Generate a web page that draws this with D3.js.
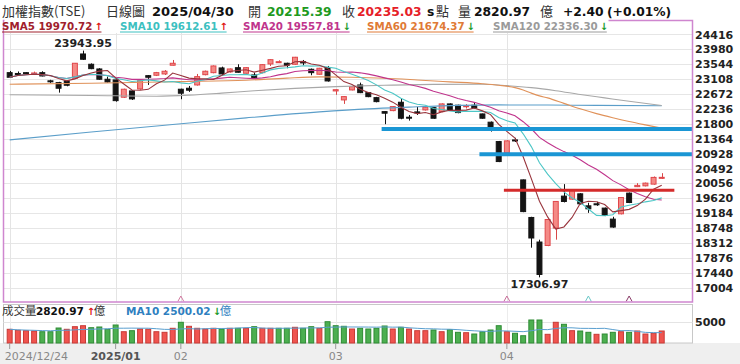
<!DOCTYPE html>
<html><head><meta charset="utf-8">
<script src="https://cdn.jsdelivr.net/npm/d3@7"></script>
<style>
html,body{margin:0;padding:0;background:#fff;}
svg{display:block;}
text{font-family:"DejaVu Sans",Verdana,sans-serif;}
.cjk{font-family:"Noto Sans CJK TC","Noto Sans CJK SC",sans-serif;}
</style></head><body>
<svg id="c" width="740" height="364"></svg>
<script>
// ---------------- DATA ----------------
const dates = [
"2024-12-24","2024-12-25","2024-12-26","2024-12-27","2024-12-30","2024-12-31",
"2025-01-02","2025-01-03","2025-01-06","2025-01-07","2025-01-08","2025-01-09","2025-01-10","2025-01-13","2025-01-14","2025-01-15","2025-01-16","2025-01-17","2025-01-20","2025-01-21","2025-01-22",
"2025-02-03","2025-02-04","2025-02-05","2025-02-06","2025-02-07","2025-02-10","2025-02-11","2025-02-12","2025-02-13","2025-02-14","2025-02-17","2025-02-18","2025-02-19","2025-02-20","2025-02-21","2025-02-24","2025-02-25","2025-02-26","2025-02-27",
"2025-03-03","2025-03-04","2025-03-05","2025-03-06","2025-03-07","2025-03-10","2025-03-11","2025-03-12","2025-03-13","2025-03-14","2025-03-17","2025-03-18","2025-03-19","2025-03-20","2025-03-21","2025-03-24","2025-03-25","2025-03-26","2025-03-27","2025-03-28","2025-03-31",
"2025-04-01","2025-04-02","2025-04-07","2025-04-08","2025-04-09","2025-04-10","2025-04-11","2025-04-14","2025-04-15","2025-04-16","2025-04-17","2025-04-18","2025-04-21","2025-04-22","2025-04-23","2025-04-24","2025-04-25","2025-04-28","2025-04-29","2025-04-30"];

const open = [23299,23275,23299,23260,23299,23060,23007,23056,23135,23846,23545,23407,23106,23086,22580,22764,22822,23211,23223,23261,23516,
22814,22843,22939,23240,23299,23437,23320,23445,23281,23232,23299,23553,23610,23574,23545,23621,23398,23252,23445,
22764,22501,22793,22939,22714,22568,22159,22188,22433,21995,22150,22208,22275,22159,22384,22346,22320,22346,22091,21849,21282,
20950,21330,20160,19060,18341,18240,18750,19685,19597,19752,19401,19460,19334,19012,19167,19773,19962,19986,20036,20215.39];
const high = [23349,23334,23310,23330,23340,23090,23030,23080,23580,23943.95,23570,23430,23183,23100,22830,22780,23080,23230,23320,23375,23670,
22830,22910,23261,23360,23510,23475,23420,23545,23460,23299,23545,23690,23660,23590,23760,23670,23420,23440,23495,
22810,22610,22900,23007,22730,22590,22170,22320,22550,22060,22295,22300,22290,22400,22400,22360,22380,22420,22100,21870,21300,
21320,21390,20170,19080,18410,19020,19540,20036,19870,19770,19490,19520,19350,19080,19660,19790,20065,20080,20260,20357];
const low = [23144,23202,23250,23250,23190,23000,22714,22900,23130,23670,23400,23090,23010,22450,22560,22500,22800,22940,23200,23230,23510,
22521,22735,22920,23220,23280,23232,23300,23300,23270,23115,23280,23495,23580,23428,23530,23515,23223,23240,23036,
22650,22384,22780,22700,22580,22430,21790,22170,21935,21895,22060,22190,21950,22140,22190,22110,22250,22250,21950,21574,20680,
20930,21270,19215,18175,17306.97,18220,18410,19500,19580,19440,19195,19400,19100,18760,19150,19480,19950,19970,20020,20190];
const close = [23164,23270,23280,23290,23202,23035,22843,22930,23574,23691,23416,23106,23027,22480,22814,22530,23065,23164,23299,23340,23574,
22697,22785,23182,23340,23495,23261,23407,23311,23445,23153,23533,23679,23620,23516,23750,23583,23299,23428,23056,
22800,22598,22890,22714,22597,22451,22112,22305,21965,21975,22140,22287,21965,22384,22208,22130,22330,22267,21965,21662,20697,
21302,21300,19232,18459,17392,19000,19529,19528,19849,19460,19313,19450,19118,18779,19644,19498,20000,20065,20232.63,20235.03];
const priorClose = 23100; // close of the session before the first bar (estimated)

const volume = [3215,2980,2890,2815,2650,2650,3520,3215,3830,4060,3590,3755,3215,4225,2650,2890,3285,3215,2650,2510,3450,
4860,3920,3450,3285,3450,3285,3450,3450,3450,3830,3450,3450,3450,3450,3685,3450,3830,3450,5000,
4060,3920,3285,3450,3285,3450,3990,3285,3685,3285,2890,2890,3050,2650,3120,2510,2420,2110,2650,3050,4060,
2650,2280,1710,5400,5400,2040,4860,4390,2890,2815,2510,2040,2110,2510,2650,2510,2815,2110,2280,2820.97];

// long moving averages: [date, value]
const sma60Pts = [["2024-12-24",22960],["2025-01-08",22990],["2025-02-03",23036],["2025-02-13",23075],["2025-02-20",23140],["2025-02-26",23175],["2025-03-05",23165],["2025-03-11",23135],["2025-03-17",23085],["2025-03-21",23030],["2025-03-27",22975],["2025-03-31",22930],["2025-04-02",22860],["2025-04-07",22790],["2025-04-08",22700],["2025-04-09",22620],["2025-04-10",22560],["2025-04-14",22400],["2025-04-16",22240],["2025-04-18",22100],["2025-04-22",21980],["2025-04-24",21870],["2025-04-28",21770],["2025-04-30",21674.37]];
const sma120Pts = [["2024-12-24",22650],["2025-01-08",22630],["2025-01-20",22610],["2025-02-04",22640],["2025-02-10",22700],["2025-02-14",22770],["2025-02-21",22840],["2025-03-03",22890],["2025-03-11",22930],["2025-03-19",22955],["2025-03-27",22960],["2025-04-01",22920],["2025-04-08",22860],["2025-04-11",22770],["2025-04-16",22660],["2025-04-21",22560],["2025-04-24",22460],["2025-04-30",22336.30]];
const sma240Pts = [["2024-12-24",21331],["2025-01-08",21560],["2025-01-22",21780],["2025-02-13",21975],["2025-02-26",22150],["2025-03-07",22240],["2025-03-14",22290],["2025-03-24",22340],["2025-03-31",22355],["2025-04-10",22350],["2025-04-18",22340],["2025-04-30",22330]];

// legend
const maNames = ["SMA5","SMA10","SMA20","SMA60","SMA120"];
const maValues = ["19970.72","19612.61","19557.81","21674.37","22336.30"];
const maDirs = ["up","up","down","down","down"];

// drawn support / resistance levels
const levelValues = [21650, 20913, 19860];
const levelStart = ["2025-03-11","2025-03-27","2025-04-01"];

// event markers under the price panel
const markerDates = ["2025-02-03","2025-04-01","2025-04-17","2025-04-24"];

// axis ticks
const xTickDates = ["2024-12-24","2025-01-13","2025-02-03","2025-03-03","2025-04-01"];
const xTickLabels = ["2024/12/24","2025/01","02","03","04"];
const yTicks = d3.range(17004, 24417, 436);
const volTicks = [5000];

const maxLabel = {date:"2025-01-07", text:"23943.95"};
const minLabel = {date:"2025-04-09", text:"17306.97"};

// ---------------- DRAW ----------------
const svg = d3.select("#c");
svg.append("rect").attr("width",740).attr("height",364).attr("fill","#fff");
svg.append("rect").attr("x",0).attr("y",343).attr("width",740).attr("height",21).attr("fill","#efefef");

const L = 3.5, R = 692.5, T = 20.5, B = 302;
const y = d3.scaleLinear().domain([16568, 24852]).range([302.6, 19.6]);
const x = d3.scaleBand().domain(dates).range([5.6, 665.8]).paddingInner(0.27).paddingOuter(0.135);
const bw = x.bandwidth(), step = x.step();
const cx = d => x(d) + bw/2;
const yv = d3.scaleLinear().domain([0,5000]).range([343, 321.7]);

// grid
const grid = svg.append("g");
grid.selectAll("line.h").data(yTicks).join("line")
  .attr("x1",L).attr("x2",R).attr("y1",d=>Math.round(y(d))+0.5).attr("y2",d=>Math.round(y(d))+0.5)
  .attr("stroke","#e6e6e6").attr("stroke-width",1);
grid.selectAll("line.v").data(xTickDates).join("line")
  .attr("x1",d=>Math.round(cx(d))+0.5).attr("x2",d=>Math.round(cx(d))+0.5).attr("y1",T).attr("y2",B)
  .attr("stroke","#e4e4e4");

// candles
const idx = d3.range(dates.length);
const cg = svg.append("g");
cg.selectAll("line").data(idx).join("line")
  .attr("x1",i=>Math.round(cx(dates[i]))+0.5).attr("x2",i=>Math.round(cx(dates[i]))+0.5)
  .attr("y1",i=>y(high[i])).attr("y2",i=>y(low[i]))
  .attr("stroke",i=>close[i]>=open[i]?"#d84848":"#111").attr("stroke-width",1);
cg.selectAll("rect").data(idx).join("rect")
  .attr("x",i=>x(dates[i])+0.5).attr("width",bw-1)
  .attr("y",i=>y(Math.max(open[i],close[i])))
  .attr("height",i=>Math.max(1,y(Math.min(open[i],close[i]))-y(Math.max(open[i],close[i]))))
  .attr("fill",i=>close[i]>=open[i]?"#f48a86":"#141414")
  .attr("stroke",i=>close[i]>=open[i]?"#e0464a":"#141414").attr("stroke-width",1);

// moving averages
function sma(arr,n){return arr.map((_,i)=>{const s=arr.slice(Math.max(0,i-n+1),i+1);return d3.mean(s);});}
const lineIdx = d3.line().x((d,i)=>cx(dates[i])).y(d=>y(d));
const linePts = d3.line().x(d=>cx(d[0])).y(d=>y(d[1])).curve(d3.curveMonotoneX);
const mg = svg.append("g").attr("fill","none").attr("stroke-width",1.1);
mg.append("path").attr("d",linePts(sma240Pts)).attr("stroke","#5b9ec9");
mg.append("path").attr("d",linePts(sma120Pts)).attr("stroke","#a8a8a8");
mg.append("path").attr("d",linePts(sma60Pts)).attr("stroke","#e0925a");
mg.append("path").attr("d",lineIdx(sma(close,20))).attr("stroke","#c0348c");
mg.append("path").attr("d",lineIdx(sma(close,10))).attr("stroke","#4cc6c6");
mg.append("path").attr("d",lineIdx(sma(close,5))).attr("stroke","#98343c");

// levels
const levelColors = ["#1a96d4","#1a96d4","#d42b2b"];
const levelWidths = [4,4,3];
const levelEnds = [R, R, cx(dates[dates.length-1]) + 1.55*step];
svg.append("g").selectAll("line").data(levelValues).join("line")
  .attr("x1",(d,i)=>x(levelStart[i])).attr("x2",(d,i)=>levelEnds[i])
  .attr("y1",d=>y(d)).attr("y2",d=>y(d))
  .attr("stroke",(d,i)=>levelColors[i]).attr("stroke-width",(d,i)=>levelWidths[i]);

// extreme labels
svg.append("text").attr("x",cx(maxLabel.date)).attr("y",y(23943.95)-4).attr("text-anchor","middle")
  .attr("font-size",11).attr("font-weight","bold").attr("fill","#222").text(maxLabel.text);
svg.append("text").attr("x",cx(minLabel.date)).attr("y",y(17306.97)+11).attr("text-anchor","middle")
  .attr("font-size",11).attr("font-weight","bold").attr("fill","#222").text(minLabel.text);

// markers
const markerColors = ["#d27aa0","#c8709a","#6cc8c8","#8a3c68"];
svg.append("g").selectAll("path").data(markerDates).join("path")
  .attr("d",d=>{const c=cx(d);return `M${c-3},301.5L${c},296L${c+3},301.5`;})
  .attr("fill","none").attr("stroke",(d,i)=>markerColors[i]).attr("stroke-width",1);

// frame
svg.append("rect").attr("x",L).attr("y",T).attr("width",R-L).attr("height",B-T)
  .attr("fill","none").attr("stroke","#cf86cf").attr("stroke-width",1.5);

// y axis
const ya = svg.append("g").attr("transform",`translate(695,0)`)
  .call(d3.axisRight(y).tickValues(yTicks).tickSize(0).tickPadding(0).tickFormat(d3.format("d")));
ya.select(".domain").remove();
ya.selectAll("text").attr("font-family","DejaVu Sans").attr("font-size",11).attr("font-weight","bold").attr("fill","#222");

// legend row
const lg = svg.append("g");
lg.append("rect").attr("x",L+1).attr("y",14).attr("width",604).attr("height",19).attr("fill","#fff");
const maColors = ["#a0202c","#3cc0c0","#c0348c","#e07a36","#9a9a9a"];
const maX = [2,120,243,367,493];
maNames.forEach((n,i)=>{
  const t = lg.append("text").attr("x",maX[i]).attr("y",30).attr("font-size",10.3).attr("font-weight","bold")
    .attr("fill",maColors[i]).text(`${n} ${maValues[i]}`);
  const w = t.node().getComputedTextLength();
  lg.append("text").attr("x",maX[i]+w+2).attr("y",30).attr("font-size",10).attr("font-weight","bold")
    .attr("fill",maDirs[i]==="up"?"#e01515":"#1a9a2a").text(maDirs[i]==="up"?"↑":"↓");
  lg.append("line").attr("x1",maX[i]).attr("x2",maX[i]+w+9).attr("y1",32).attr("y2",32)
    .attr("stroke",maColors[i]).attr("stroke-width",1);
});

// header
const hd = svg.append("g");
function ht(x0,txt,opt){const t=hd.append("text").attr("x",x0).attr("y",15.5).text(txt);
  if(opt.cjk) t.attr("class","cjk").attr("font-size",13).attr("fill","#333");
  else t.attr("font-size",opt.size||12.3).attr("font-weight","bold").attr("fill",opt.fill||"#111");
  return t;}
ht(2,"加權指數(TSE)",{cjk:1});
ht(106,"日線圖",{cjk:1});
ht(152,"2025/04/30",{size:13});
ht(248,"開",{cjk:1});
ht(267,"20215.39",{fill:"#1e9a1e"});
ht(342,"收",{cjk:1});
ht(357,"20235.03",{fill:"#e61e28"});
ht(427,"s",{});
ht(436,"點",{cjk:1});
ht(458,"量",{cjk:1});
ht(474,"2820.97",{});
ht(540,"億",{cjk:1});
ht(563,"+2.40",{});
ht(607,"(+0.01%)",{});

// volume panel
svg.append("rect").attr("x",L).attr("y",304.5).attr("width",R-L).attr("height",343-304.5)
  .attr("fill","#fff").attr("stroke","#c8c8c8").attr("stroke-width",1);
svg.append("g").selectAll("line").data(volTicks).join("line")
  .attr("x1",L).attr("x2",R).attr("y1",d=>Math.round(yv(d))+0.5).attr("y2",d=>Math.round(yv(d))+0.5).attr("stroke","#e4e4e4");
svg.append("g").selectAll("line").data(xTickDates).join("line")
  .attr("x1",d=>Math.round(cx(d))+0.5).attr("x2",d=>Math.round(cx(d))+0.5).attr("y1",305).attr("y2",343).attr("stroke","#ececec");
const upVol = idx.map(i=> close[i] >= (i===0?priorClose:close[i-1]));
svg.append("g").selectAll("rect").data(idx).join("rect")
  .attr("x",i=>x(dates[i])+0.5).attr("width",bw-1)
  .attr("y",i=>yv(volume[i])).attr("height",i=>343-yv(volume[i]))
  .attr("fill",i=>upVol[i]?"#f0544f":"#4caf50")
  .attr("stroke",i=>upVol[i]?"#c83a36":"#2e8b34").attr("stroke-width",1);
svg.append("path").attr("d",d3.line().x((d,i)=>cx(dates[i])).y(d=>yv(d))(sma(volume,10)))
  .attr("fill","none").attr("stroke","#5a9fcf").attr("stroke-width",1);
svg.append("g").selectAll("text").data(volTicks).join("text")
  .attr("x",695).attr("y",d=>yv(d)).attr("dy","0.35em").attr("font-size",11).attr("font-weight","bold").attr("fill","#222").text(d=>d);

// volume legend
const vl = svg.append("g");
vl.append("text").attr("class","cjk").attr("x",2).attr("y",315).attr("font-size",11.5).attr("fill","#333").text("成交量");
const v1 = vl.append("text").attr("x",36).attr("y",315).attr("font-size",10.5).attr("font-weight","bold").attr("fill","#111").text("2820.97");
const w1 = v1.node().getComputedTextLength();
vl.append("text").attr("x",36+w1+3).attr("y",315).attr("font-size",10).attr("font-weight","bold").attr("fill","#e01515").text("↑");
vl.append("text").attr("class","cjk").attr("x",36+w1+10).attr("y",315).attr("font-size",11.5).attr("fill","#333").text("億");
const v2 = vl.append("text").attr("x",126).attr("y",315).attr("font-size",10.5).attr("font-weight","bold").attr("fill","#2f7fbf").text("MA10 2500.02");
const w2 = v2.node().getComputedTextLength();
vl.append("text").attr("x",126+w2+2).attr("y",315).attr("font-size",10).attr("font-weight","bold").attr("fill","#1a9a2a").text("↓");
vl.append("text").attr("class","cjk").attr("x",126+w2+9).attr("y",315).attr("font-size",11.5).attr("fill","#2f7fbf").text("億");

// x axis
const labelOf = d3.scaleOrdinal().domain(xTickDates).range(xTickLabels);
const xa = svg.append("g").attr("transform","translate(0,343)")
  .call(d3.axisBottom(x).tickValues(xTickDates).tickSize(6).tickPadding(3).tickFormat(d=>labelOf(d)));
xa.select(".domain").remove();
xa.selectAll(".tick line").attr("stroke","#999");
xa.selectAll("text").attr("font-family","DejaVu Sans").attr("font-size",11).attr("fill","#888");
xa.selectAll(".tick text").filter(d=>d===xTickDates[0]).attr("text-anchor","start").attr("dx",-5);
xa.selectAll(".tick text").filter(d=>d===xTickDates[1]).attr("font-weight","bold").attr("fill","#555");
</script>
</body></html>
